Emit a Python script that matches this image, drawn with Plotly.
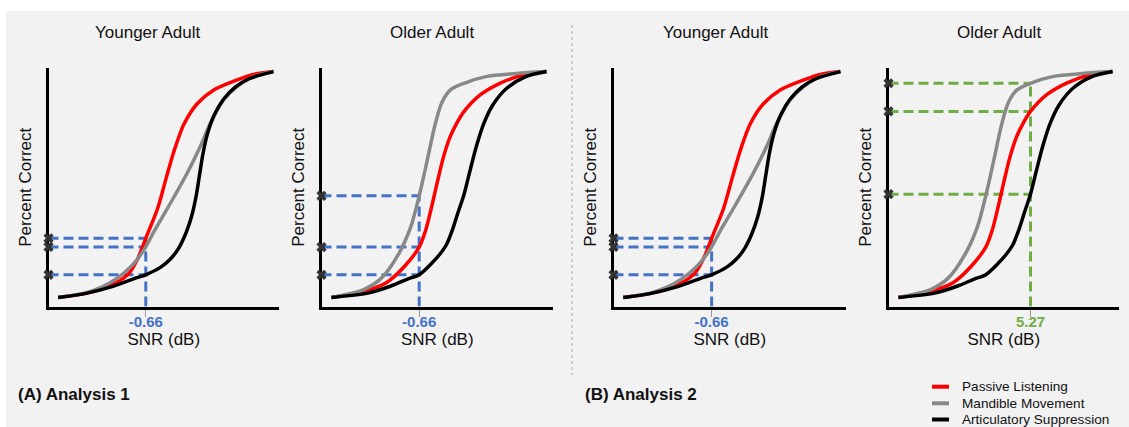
import plotly.graph_objects as go

# ---------------- data (normalised SNR 0-100, percent correct 0-100) ----------------
younger_passive_snr = [4.2, 15.7, 22.8, 30.0, 35.0, 38.7, 42.2, 47.3, 50.9, 54.4, 58.8, 64.5, 71.7, 81.8, 89.0, 97.6]
younger_passive_pc = [3.8, 5.4, 7.2, 10.3, 14.0, 20.0, 28.6, 41.0, 53.3, 65.0, 76.5, 85.0, 90.8, 95.0, 97.3, 98.5]

younger_mandible_snr = [4.2, 15.7, 22.8, 30.0, 35.0, 38.7, 42.2, 45.8, 53.0, 60.2, 65.9, 70.3, 76.0, 81.8, 88.0, 97.6]
younger_mandible_pc = [3.8, 5.6, 8.0, 12.0, 16.0, 20.0, 25.0, 31.5, 43.5, 56.0, 67.2, 77.0, 86.7, 92.2, 96.0, 98.5]

younger_artic_snr = [4.2, 15.7, 27.2, 37.2, 42.2, 48.7, 53.0, 56.5, 59.5, 62.0, 64.0, 65.5, 67.0, 69.0, 72.0, 76.0, 81.0, 87.0, 97.6]
younger_artic_pc = [3.8, 5.4, 8.2, 11.7, 13.3, 16.5, 20.0, 24.5, 30.5, 37.5, 46.0, 55.0, 64.0, 72.5, 80.5, 87.0, 92.0, 95.5, 98.5]

older_passive_snr = [4.3, 18.0, 28.0, 36.0, 42.2, 45.0, 47.5, 50.0, 52.5, 55.5, 58.5, 61.6, 68.8, 77.5, 87.5, 97.2]
older_passive_pc = [3.8, 6.3, 10.0, 17.0, 24.9, 32.0, 41.5, 52.0, 62.0, 71.0, 77.0, 81.8, 88.9, 93.8, 97.2, 98.5]

older_mandible_snr = [4.3, 18.0, 26.0, 33.0, 38.6, 42.2, 45.6, 49.0, 52.0, 55.7, 61.6, 71.5, 84.0, 97.2]
older_mandible_pc = [3.8, 7.0, 12.0, 21.5, 33.5, 46.4, 61.0, 76.0, 85.5, 90.8, 93.6, 96.5, 97.7, 98.5]

older_artic_snr = [4.3, 20.0, 30.0, 37.2, 42.2, 47.5, 51.0, 54.0, 56.5, 59.0, 61.6, 64.3, 67.0, 70.0, 74.0, 80.0, 88.0, 97.2]
older_artic_pc = [3.8, 5.6, 8.6, 11.5, 13.3, 18.0, 21.8, 26.0, 32.0, 39.5, 47.1, 57.5, 67.5, 76.5, 84.5, 91.5, 96.3, 98.5]

panel_titles = ["Younger Adult", "Older Adult", "Younger Adult", "Older Adult"]
cut_snr = [42.2, 42.2, 42.2, 61.6]
cut_tick_labels = ["-0.66", "-0.66", "-0.66", "5.27"]
# percent correct read at the cut, order: passive, mandible, articulatory
cut_pc_p1 = [28.6, 25.0, 13.3]
cut_pc_p2 = [24.9, 46.4, 13.3]
cut_pc_p3 = [28.6, 25.0, 13.3]
cut_pc_p4 = [81.8, 93.6, 47.1]
condition_names = ["Passive Listening", "Mandible Movement", "Articulatory Suppression"]
analysis_labels = ["(A) Analysis 1", "(B) Analysis 2"]

# ---------------- styling / layout ----------------
W, H = 1129, 427
FONT = "Liberation Sans, Arial, Helvetica, sans-serif"
cond_colors = ["#ff0000", "#888888", "#000000"]
cut_colors = ["#4472c4", "#4472c4", "#4472c4", "#70ad47"]
BG = "#f2f2f2"

def px(x):
    return x / W

def py(y):
    return 1 - y / H

# pixel geometry of panels: y-axis line x, x-axis right end
axis_left = [47, 320, 612, 887]
axis_right = [279, 553, 846, 1119]
axis_top, axis_bottom = 68, 308
title_cx = [148, 432, 716, 999]
legend_rows = [386.7, 403.3, 419.5]

curves = [
    [(younger_passive_snr, younger_passive_pc), (younger_mandible_snr, younger_mandible_pc), (younger_artic_snr, younger_artic_pc)],
    [(older_passive_snr, older_passive_pc), (older_mandible_snr, older_mandible_pc), (older_artic_snr, older_artic_pc)],
    [(younger_passive_snr, younger_passive_pc), (younger_mandible_snr, younger_mandible_pc), (younger_artic_snr, younger_artic_pc)],
    [(older_passive_snr, older_passive_pc), (older_mandible_snr, older_mandible_pc), (older_artic_snr, older_artic_pc)],
]
cut_values = [cut_pc_p1, cut_pc_p2, cut_pc_p3, cut_pc_p4]

fig = go.Figure()
layout = dict(
    width=W, height=H,
    margin=dict(l=0, r=0, t=0, b=0, autoexpand=False),
    paper_bgcolor="white",
    plot_bgcolor="rgba(0,0,0,0)",
    font=dict(family=FONT, color="#111111", size=17),
    showlegend=False,
)

LW = 3
for i in range(4):
    n = "" if i == 0 else str(i + 1)
    xa, ya = "x" + n, "y" + n
    xs = cut_snr[i]
    vals = cut_values[i]
    # dashed guide lines
    gx, gy = [], []
    for v in vals:
        gx += [0, xs, None]
        gy += [v, v, None]
    gx += [xs, xs]
    gy += [0, max(vals)]
    fig.add_trace(go.Scatter(x=gx, y=gy, xaxis=xa, yaxis=ya, mode="lines",
                             line=dict(color=cut_colors[i], width=3, dash="10px,5px"),
                             showlegend=False, hoverinfo="skip", cliponaxis=False))
    # curves
    for k, (sx, sy) in enumerate(curves[i]):
        fig.add_trace(go.Scatter(x=sx, y=sy, xaxis=xa, yaxis=ya, mode="lines",
                                 line=dict(color=cond_colors[k], width=3.5, shape="spline", smoothing=0.8),
                                 name=condition_names[k], legendgroup=condition_names[k],
                                 showlegend=False, hoverinfo="skip"))
    # crosses on the y axis
    fig.add_trace(go.Scatter(x=[0] * len(vals), y=vals, xaxis=xa, yaxis=ya, mode="markers",
                             marker=dict(symbol="x", size=9, color="#333333"),
                             showlegend=False, hoverinfo="skip", cliponaxis=False))

    x0 = axis_left[i] + LW / 2
    x1 = axis_right[i]
    layout["xaxis" + n] = dict(
        domain=[px(x0), px(x1)], range=[0, 100], anchor=ya,
        showline=True, linewidth=LW, linecolor="black", showgrid=False, zeroline=False,
        ticks="outside", ticklen=7, tickwidth=1, tickcolor="#9a9a9a",
        tickvals=[xs], ticktext=["<b>" + cut_tick_labels[i] + "</b>"],
        tickfont=dict(color=cut_colors[i], size=15, family=FONT),
        ticklabelstandoff=-8,
        title=dict(text="SNR (dB)", font=dict(size=17, color="#111111"), standoff=5),
        layer="below traces", fixedrange=True,
    )
    layout["yaxis" + n] = dict(
        domain=[py(axis_bottom - LW / 2), py(axis_top)], range=[0, 100], anchor=xa,
        showline=True, linewidth=LW, linecolor="black", showgrid=False, zeroline=False,
        showticklabels=False, ticks="",
        title=dict(text="Percent Correct", font=dict(size=17, color="#111111"), standoff=10),
        layer="below traces", fixedrange=True,
    )

annotations = []
for i in range(4):
    annotations.append(dict(text=panel_titles[i], x=px(title_cx[i]), y=py(33), xref="paper", yref="paper",
                            xanchor="center", yanchor="middle", showarrow=False,
                            font=dict(size=17, color="#111111")))
annotations.append(dict(text="<b>" + analysis_labels[0] + "</b>", x=px(16), y=py(394), xref="paper", yref="paper",
                        xanchor="left", yanchor="middle", showarrow=False, font=dict(size=17, color="#111111")))
annotations.append(dict(text="<b>" + analysis_labels[1] + "</b>", x=px(583), y=py(394), xref="paper", yref="paper",
                        xanchor="left", yanchor="middle", showarrow=False, font=dict(size=17, color="#111111")))

shapes = [
    dict(type="rect", xref="paper", yref="paper", x0=px(6), x1=1, y0=0, y1=py(11),
         fillcolor=BG, line=dict(width=0), layer="below"),
    dict(type="line", xref="paper", yref="paper", x0=px(572), x1=px(572), y0=py(25), y1=py(375),
         line=dict(color="#a8a8a8", width=1, dash="dot"), layer="below"),
]

# legend (key) in the bottom-right corner
for k, name in enumerate(condition_names):
    yk = legend_rows[k]
    shapes.append(dict(type="line", xref="paper", yref="paper", x0=px(932), x1=px(949), y0=py(yk), y1=py(yk),
                       line=dict(color=cond_colors[k], width=4)))
    annotations.append(dict(text=name, x=px(960), y=py(yk), xref="paper", yref="paper",
                            xanchor="left", yanchor="middle", showarrow=False,
                            font=dict(size=13.6, color="#111111")))

layout["annotations"] = annotations
layout["shapes"] = shapes

fig.update_layout(**layout)
fig.write_html("out.html")
